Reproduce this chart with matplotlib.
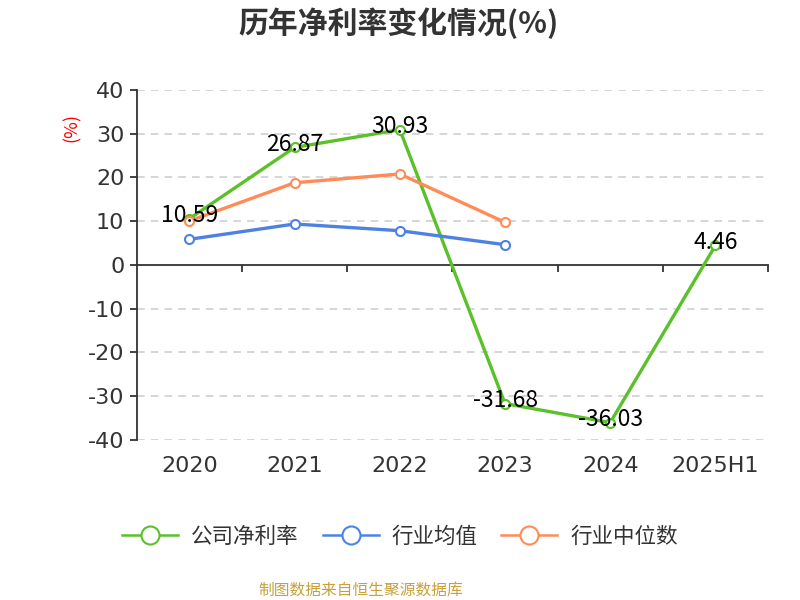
import matplotlib.pyplot as plt
import matplotlib.transforms as mtrans
from matplotlib.lines import Line2D

plt.rcParams['font.family'] = ['Noto Sans CJK SC', 'DejaVu Sans']

# ---- 数据 ----
years = ["2020", "2021", "2022", "2023", "2024", "2025H1"]
company = [10.59, 26.87, 30.93, -31.68, -36.03, 4.46]
industry_avg = [5.87, 9.37, 7.84, 4.64]
industry_median = [10.06, 18.8, 20.8, 9.75]
y_ticks = [-40, -30, -20, -10, 0, 10, 20, 30, 40]

c_green = "#5ac12a"
c_blue = "#4e82e2"
c_orange = "#ff8c57"
txt = "#333333"

fig = plt.figure(figsize=(8, 6), dpi=100)
ax = fig.add_axes([0.171, 0.2667, 0.789, 0.5833])

x_all = list(range(len(years)))
series = [
    (company, c_green, "公司净利率"),
    (industry_avg, c_blue, "行业均值"),
    (industry_median, c_orange, "行业中位数"),
]
for vals, col, name in series:
    ax.plot(x_all[:len(vals)], vals, color=col, lw=2.4, marker="o", ms=6.5,
            mfc="white", mec=col, mew=1.5, zorder=3)

for i, v in enumerate(company):
    ax.annotate(f"{v:.2f}", (i, v), xytext=(0, 2), textcoords="offset points",
                ha="center", va="center", fontsize=16.5, color="black", zorder=5)

ax.set_xlim(-0.5, len(years) - 0.5)
ax.set_ylim(-40, 40)
ax.set_yticks(y_ticks)
ax.set_yticklabels([str(t) for t in y_ticks], fontsize=16, color=txt,
                   family="DejaVu Sans")
for t in y_ticks:
    if t != 0:
        ax.axhline(t, color="#cccccc", lw=1.1, ls=(0, (5, 4)), zorder=1)

for s in ["top", "right"]:
    ax.spines[s].set_visible(False)
ax.spines["left"].set_color(txt)
ax.spines["left"].set_linewidth(1.3)
ax.spines["bottom"].set_position(("data", 0))
ax.spines["bottom"].set_color(txt)
ax.spines["bottom"].set_linewidth(1.3)
ax.tick_params(axis="y", length=5, width=1.3, color=txt, pad=4)
ax.set_xticks([i + 0.5 for i in range(len(years))])
ax.set_xticklabels([])
ax.tick_params(axis="x", length=5, width=1.3, color=txt, direction="out")

tr = mtrans.blended_transform_factory(ax.transData, ax.transAxes)
for i, y in enumerate(years):
    ax.text(i, -0.075, y, transform=tr, ha="center", va="center",
            fontsize=16, color=txt, family="DejaVu Sans")

ax.text(-0.103, 0.894, "(%)", transform=ax.transAxes, rotation=90,
        ha="center", va="center", fontsize=13, color="red")

fig.text(0.498, 0.962, "历年净利率变化情况(%)", ha="center", va="center",
         fontsize=21.5, fontweight="bold", color=txt)

handles = [Line2D([0], [0], color=col, lw=1.8, marker="o", ms=13,
                  mfc="white", mec=col, mew=1.5) for _, col, _ in series]
labels = [name for _, _, name in series]
fig.legend(handles, labels, loc="center", bbox_to_anchor=(0.5, 0.105), ncol=3,
           frameon=False, fontsize=15.5, handlelength=2.6, handletextpad=0.6,
           columnspacing=1.1, labelcolor=txt)

fig.text(0.451, 0.017, "制图数据来自恒生聚源数据库", ha="center", va="center",
         fontsize=11.3, color="#c9a03a")

fig.savefig("out.png", dpi=100)
